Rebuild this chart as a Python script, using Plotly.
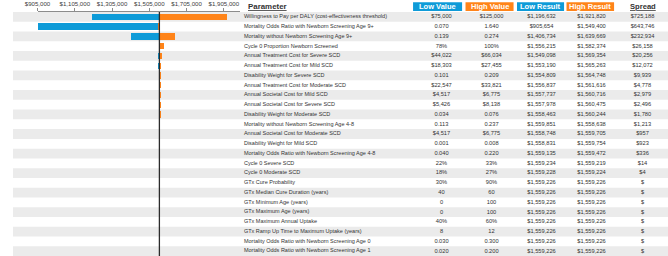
import plotly.graph_objects as go

parameters = [
    "Willingness to Pay per DALY (cost-effectiveness threshold)",
    "Mortality Odds Ratio with Newborn Screening Age 9+",
    "Mortality without Newborn Screening Age 9+",
    "Cycle 0 Proportion Newborn Screened",
    "Annual Treatment Cost for Severe SCD",
    "Annual Treatment Cost for Mild SCD",
    "Disability Weight for Severe SCD",
    "Annual Treatment Cost for Moderate SCD",
    "Annual Societal Cost for Mild SCD",
    "Annual Societal Cost for Severe SCD",
    "Disability Weight for Moderate SCD",
    "Mortality without Newborn Screening Age 4-8",
    "Annual Societal Cost for Moderate SCD",
    "Disability Weight for Mild SCD",
    "Mortality Odds Ratio with Newborn Screening Age 4-8",
    "Cycle 0 Severe SCD",
    "Cycle 0 Moderate SCD",
    "GTx Cure Probability",
    "GTx Median Cure Duration (years)",
    "GTx Minimum Age (years)",
    "GTx Maximum Age (years)",
    "GTx Maximum Annual Uptake",
    "GTx Ramp Up Time to Maximum Uptake (years)",
    "Mortality Odds Ratio with Newborn Screening Age 0",
    "Mortality Odds Ratio with Newborn Screening Age 1",
]
low_values = ["$75,000", "0.070", "0.139", "78%", "$44,022", "$18,303", "0.101", "$22,547",
              "$4,517", "$5,426", "0.034", "0.113", "$4,517", "0.001", "0.040", "22%", "18%",
              "30%", "40", "0", "0", "40%", "8", "0.030", "0.020"]
high_values = ["$125,000", "1.640", "0.274", "100%", "$66,034", "$27,455", "0.209", "$33,821",
               "$6,775", "$8,138", "0.076", "0.237", "$6,775", "0.008", "0.220", "33%", "27%",
               "90%", "60", "100", "100", "60%", "12", "0.300", "0.200"]
low_results = [1196632, 905654, 1406734, 1556215, 1549098, 1553190, 1554809, 1556837,
               1557737, 1557978, 1558463, 1559851, 1558748, 1558831, 1559135, 1559234, 1559228,
               1559226, 1559226, 1559226, 1559226, 1559226, 1559226, 1559226, 1559226]
high_results = [1921820, 1549400, 1639669, 1582374, 1569354, 1565263, 1564748, 1561616,
                1560716, 1560475, 1560244, 1558638, 1559705, 1559754, 1559472, 1559219, 1559224,
                1559226, 1559226, 1559226, 1559226, 1559226, 1559226, 1559226, 1559226]
spreads = ["$725,188", "$643,746", "$232,934", "$26,158", "$20,256", "$12,072", "$9,939", "$4,778",
           "$2,979", "$2,496", "$1,780", "$1,213", "$957", "$923", "$336", "$14", "$4",
           "$", "$", "$", "$", "$", "$", "$", "$"]
baseline = 1559226
tick_vals = [905000, 1105000, 1305000, 1505000, 1705000, 1905000]
tick_text = ["$905,000", "$1,105,000", "$1,305,000", "$1,505,000", "$1,705,000", "$1,905,000"]

W, H = 668, 256
TOP = 11
PH = H - TOP
BLUE = "#0E9BD8"
ORANGE = "#FF8419"
STRIPE = "#EBEBEB"
TXT = "#333333"
FONT = "Liberation Sans, Arial, sans-serif"

n = len(parameters)
rows = list(range(n))


def money(v):
    return "${:,}".format(v)


def py(p):
    return (H - p) / PH


fig = go.Figure()
fig.add_trace(go.Bar(y=rows, x=[v - baseline for v in low_results], base=baseline,
                     orientation="h", marker=dict(color=BLUE, line=dict(width=0)),
                     width=0.65, xaxis="x", yaxis="y", hoverinfo="skip"))
fig.add_trace(go.Bar(y=rows, x=[v - baseline for v in high_results], base=baseline,
                     orientation="h", marker=dict(color=ORANGE, line=dict(width=0)),
                     width=0.65, xaxis="x", yaxis="y", hoverinfo="skip"))

fig.add_trace(go.Scatter(x=[235.5] * n, y=rows, text=parameters, mode="text",
                         textposition="middle right",
                         textfont=dict(family=FONT, size=5.5, color=TXT),
                         xaxis="x2", yaxis="y", hoverinfo="skip"))
val_font = dict(family=FONT, size=5.7, color=TXT)
for cx, texts in [(437, low_values), (488, high_values),
                  (539, [money(v) for v in low_results]),
                  (590, [money(v) for v in high_results]),
                  (642, spreads)]:
    fig.add_trace(go.Scatter(x=[cx] * n, y=rows, text=texts, mode="text",
                             textposition="middle center", textfont=val_font,
                             xaxis="x2", yaxis="y", hoverinfo="skip"))

shapes = []
for i in range(0, n, 2):
    shapes.append(dict(type="rect", xref="paper", yref="y", x0=0, x1=1,
                       y0=i - 0.5, y1=i + 0.5, fillcolor=STRIPE, line=dict(width=0),
                       layer="below"))
shapes.append(dict(type="line", xref="x", yref="paper", x0=baseline, x1=baseline,
                   y0=0, y1=1, line=dict(color="#2B2B2B", width=1.3), layer="above"))

annotations = [
    dict(text="<b><u>Parameter</u></b>", xref="paper", yref="paper", x=237.5 / W, y=py(5.0),
         xanchor="left", yanchor="middle", showarrow=False,
         font=dict(family=FONT, size=7.9, color=TXT)),
    dict(text="<b><u>Spread</u></b>", xref="paper", yref="paper", x=642 / W, y=py(5.0),
         xanchor="center", yanchor="middle", showarrow=False,
         font=dict(family=FONT, size=7.6, color=TXT)),
]
for (x0, x1, label, color) in [(408, 458, "Low Value", BLUE), (461.5, 510.5, "High Value", ORANGE),
                               (514, 562, "Low Result", BLUE), (564.5, 613, "High Result", ORANGE)]:
    shapes.append(dict(type="rect", xref="paper", yref="paper", x0=x0 / W, x1=x1 / W,
                       y0=py(10), y1=py(1.2), fillcolor=color, line=dict(width=0)))
    annotations.append(dict(text="<b>%s</b>" % label, xref="paper", yref="paper",
                            x=(x0 + x1) / 2 / W, y=py(5.5), xanchor="center", yanchor="middle",
                            showarrow=False, font=dict(family=FONT, size=7.5, color="white")))

fig.update_layout(
    width=W, height=H,
    margin=dict(l=0, r=0, t=TOP, b=0, pad=0),
    paper_bgcolor="white", plot_bgcolor="rgba(0,0,0,0)",
    barmode="overlay", bargap=0, showlegend=False,
    xaxis=dict(domain=[25 / W, 232 / W], range=[905000, 1994500], side="top", anchor="y",
               showline=True, linecolor="#8C8C8C", linewidth=1, ticks="outside", ticklen=3,
               tickcolor="#8C8C8C", tickvals=tick_vals, ticktext=tick_text, tickangle=0,
               tickfont=dict(family=FONT, size=6.1, color="#404040"),
               showgrid=False, zeroline=False, fixedrange=True),
    xaxis2=dict(domain=[0, 1], range=[0, W], anchor="y", visible=False, fixedrange=True),
    yaxis=dict(domain=[0, 1], range=[n - 0.5, -0.5], visible=False, fixedrange=True),
    shapes=shapes, annotations=annotations,
)

fig.write_html("out.html")
